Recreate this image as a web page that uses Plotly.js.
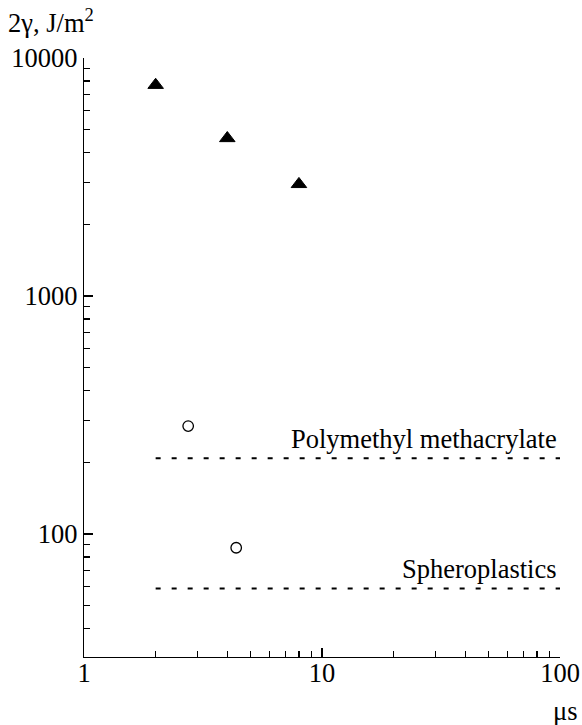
<!DOCTYPE html>
<html><head><meta charset="utf-8">
<script src="https://cdn.plot.ly/plotly-3.0.1.min.js"></script>
<style>html,body{margin:0;padding:0;background:#fff}</style>
</head><body><div id="chart" style="width:582px;height:725px"></div>
<script>
// Data
const triX = [2, 4, 8];
const triY = [7700, 4600, 2950];
const circX = [2.74, 4.36];
const circY = [284, 87.5];
const refNames = ["Polymethyl methacrylate", "Spheroplastics"];
const refLevels = [208, 59];
const refXSpan = [2, 100];
// Ticks
const xTickVals = [1, 10, 100];
const xTickText = ["1", "10", "100"];
const yTickVals = [100, 1000, 10000];
const yTickText = ["100", "1000", "10000"];
const xMinorVals = [2, 3, 4, 5, 6, 7, 8, 9, 20, 30, 40, 50, 60, 70, 80, 90];
const yMinorVals = [40, 50, 60, 70, 80, 90, 200, 300, 400, 500, 600, 700, 800, 900, 2000, 3000, 4000, 5000, 6000, 7000, 8000, 9000];
const yTitle = "2γ, J/m<sup>2</sup>";
const xTitle = "μs";

const FONT = "Liberation Serif";
const FS = 26.5;

const traces = [
  {x: triX, y: triY, type: 'scatter', mode: 'markers',
   marker: {symbol: 'triangle-up', size: 13.5, color: '#000', line: {color: '#000', width: 1}}},
  {x: circX, y: circY, type: 'scatter', mode: 'markers',
   marker: {symbol: 'circle-open', size: 10.5, color: '#000', line: {color: '#000', width: 1.3}}}
];
refLevels.forEach(v => {
  traces.push({x: refXSpan, y: [v, v], type: 'scatter', mode: 'lines',
    line: {color: '#000', width: 2, dash: '5px,11px'}});
});

const annotations = refNames.map((name, i) => ({
  text: name, xref: 'x', yref: 'y', x: Math.log10(refXSpan[1]), y: Math.log10(refLevels[i]),
  xanchor: 'right', yanchor: 'bottom', showarrow: false, xshift: -1, yshift: 2,
  font: {family: FONT, size: FS, color: '#000'}
}));
annotations.push({text: yTitle, xref: 'paper', yref: 'paper', x: -0.164, y: 1.062,
  xanchor: 'left', yanchor: 'middle', showarrow: false, font: {family: FONT, size: FS, color: '#000'}});
annotations.push({text: xTitle, xref: 'paper', yref: 'paper', x: 1.043, y: -0.09,
  xanchor: 'right', yanchor: 'middle', showarrow: false, font: {family: FONT, size: FS, color: '#000'}});

const layout = {
  width: 582, height: 725,
  margin: {l: 84, r: 22, t: 57.5, b: 68.3},
  paper_bgcolor: '#fff', plot_bgcolor: '#fff',
  showlegend: false,
  font: {family: FONT, size: FS, color: '#000'},
  xaxis: {type: 'log', range: [0, 2], showgrid: false, zeroline: false,
    showline: true, linecolor: '#000', linewidth: 1.3,
    tickmode: 'array', tickvals: xTickVals, ticktext: xTickText,
    ticks: 'inside', ticklen: 9, tickwidth: 1.3, tickcolor: '#000', ticklabelstandoff: -8,
    tickfont: {family: FONT, size: FS, color: '#000'},
    minor: {tickmode: 'array', tickvals: xMinorVals, ticks: 'inside', ticklen: 6, tickwidth: 1.2, tickcolor: '#000', showgrid: false}},
  yaxis: {type: 'log', range: [Math.log10(30.4), 4], showgrid: false, zeroline: false,
    showline: true, linecolor: '#000', linewidth: 1.3,
    tickmode: 'array', tickvals: yTickVals, ticktext: yTickText,
    ticks: 'inside', ticklen: 9, tickwidth: 1.3, tickcolor: '#000',
    tickfont: {family: FONT, size: FS, color: '#000'},
    minor: {tickmode: 'array', tickvals: yMinorVals, ticks: 'inside', ticklen: 6, tickwidth: 1.2, tickcolor: '#000', showgrid: false}},
  annotations: annotations
};

Plotly.newPlot('chart', traces, layout, {staticPlot: true, displayModeBar: false});
</script>
</body></html>
